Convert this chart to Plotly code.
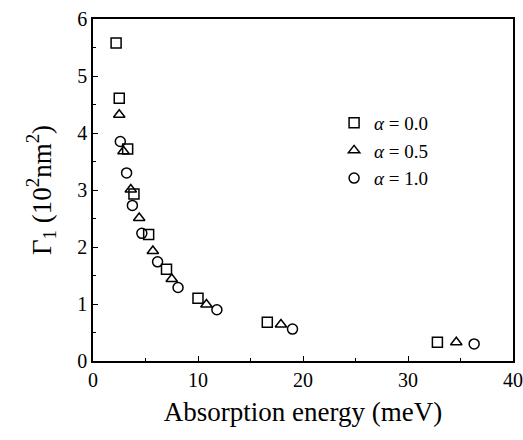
import plotly.graph_objects as go

# Data
x_a00 = [2.2, 2.5, 3.3, 3.9, 5.3, 7.0, 10.0, 16.6, 32.8]
y_a00 = [5.58, 4.61, 3.72, 2.93, 2.22, 1.61, 1.10, 0.68, 0.33]
x_a05 = [2.5, 2.9, 3.6, 4.4, 5.7, 7.5, 10.8, 17.9, 34.6]
y_a05 = [4.32, 3.68, 3.01, 2.51, 1.93, 1.44, 0.99, 0.64, 0.33]
x_a10 = [2.6, 3.2, 3.75, 4.65, 6.15, 8.1, 11.8, 19.0, 36.3]
y_a10 = [3.85, 3.30, 2.73, 2.24, 1.74, 1.29, 0.90, 0.56, 0.30]

names = ["<i>α</i> = 0.0", "<i>α</i> = 0.5", "<i>α</i> = 1.0"]
symbols = ["square-open", "triangle-up-open", "circle-open"]

FONT = "Liberation Serif, Times New Roman, serif"

fig = go.Figure()
for xs, ys, nm, sym in zip([x_a00, x_a05, x_a10], [y_a00, y_a05, y_a10], names, symbols):
    fig.add_trace(go.Scatter(
        x=xs, y=ys, mode="markers", name=nm,
        marker=dict(symbol=sym, size=10, color="black", line=dict(width=1.5, color="black")),
    ))

axis_common = dict(
    showline=True, linecolor="black", linewidth=1.5, mirror=True,
    ticks="inside", ticklen=5, tickwidth=1.2, tickcolor="black",
    showgrid=False, zeroline=False, automargin=False,
    tickfont=dict(family=FONT, size=20, color="black"),
)

fig.update_xaxes(range=[0, 40], dtick=10, minor=dict(dtick=5, ticks="inside", ticklen=3, tickcolor="black"),
                 title=dict(text="Absorption energy (meV)", font=dict(family=FONT, size=27, color="black"), standoff=12),
                 **axis_common)
fig.update_yaxes(range=[0, 6], dtick=1, minor=dict(dtick=0.5, ticks="inside", ticklen=3, tickcolor="black"),
                 title=dict(text="Γ<sub>1</sub> (10<sup>2</sup>nm<sup>2</sup>)", font=dict(family=FONT, size=27, color="black"), standoff=18),
                 **axis_common)

fig.update_layout(
    width=523, height=440,
    margin=dict(l=93, r=10, t=19, b=79),
    paper_bgcolor="white", plot_bgcolor="white",
    font=dict(family=FONT, color="black"),
    legend=dict(x=0.574, y=0.752, xanchor="left", yanchor="top",
                font=dict(family=FONT, size=19, color="black"),
                bgcolor="rgba(0,0,0,0)", itemwidth=30, tracegroupgap=0),
)

fig.write_html("out.html")
